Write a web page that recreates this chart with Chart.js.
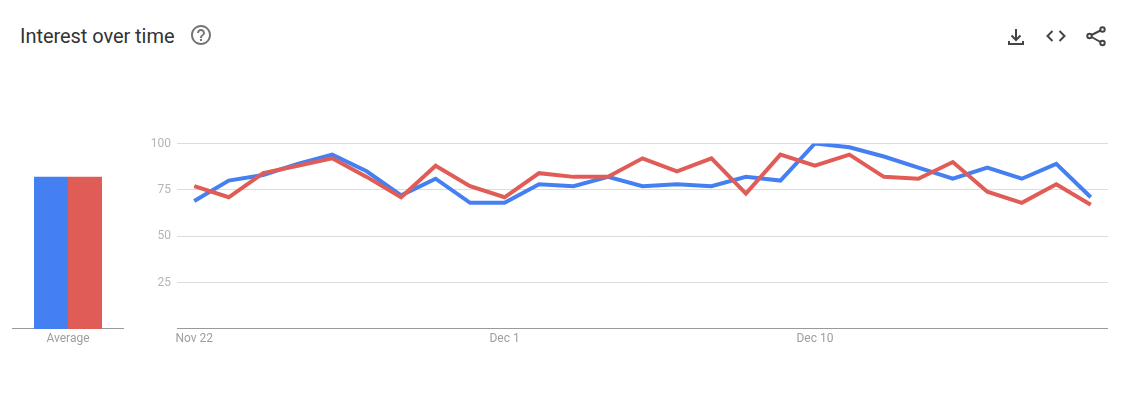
<!DOCTYPE html>
<html>
<head>
<meta charset="utf-8">
<title>Interest over time</title>
<script src="https://cdn.jsdelivr.net/npm/chart.js@4"></script>
<style>
    html, body { margin: 0; padding: 0; background: #fff; }
    body { position: relative; width: 1132px; height: 402px; overflow: hidden; font-family: Roboto, sans-serif; }
    h1 { position: absolute; left: 20px; top: 25px; margin: 0; font-size: 20px; line-height: 22px; font-weight: 400; color: #333; letter-spacing: -0.05px; }
    canvas { position: absolute; top: 120px; }
    #grafico-promedio { left: 12px; }
    #grafico-tiempo { left: 130px; }
    svg { position: absolute; }
</style>
</head>
<body>
<h1>Interest over time</h1>
<svg style="left:189px;top:23px" width="24" height="24" viewBox="0 0 24 24" fill="#757575">
    <path d="M11 18h2v-2h-2v2zm1-16C6.48 2 2 6.48 2 12s4.48 10 10 10 10-4.48 10-10S17.52 2 12 2zm0 18c-4.41 0-8-3.59-8-8s3.59-8 8-8 8 3.59 8 8-3.59 8-8 8zm0-14c-2.21 0-4 1.79-4 4h2c0-1.1.9-2 2-2s2 .9 2 2c0 2-3 1.75-3 5h2c0-2.25 3-2.5 3-5 0-2.21-1.79-4-4-4z"/>
</svg>
<svg style="left:1004px;top:25px" width="24" height="24" viewBox="0 0 24 24" fill="none" stroke="#444" stroke-width="2">
    <path d="M12 4v11M7.5 10.5 12 15l4.5-4.5M5 16v3h14v-3"/>
</svg>
<svg style="left:1044px;top:24px" width="24" height="24" viewBox="0 0 24 24" fill="none" stroke="#444" stroke-width="2">
    <path d="M8.5 7 3.5 12l5 5M15.5 7l5 5-5 5"/>
</svg>
<svg style="left:1084px;top:24px" width="24" height="24" viewBox="0 0 24 24" fill="none" stroke="#444" stroke-width="2">
    <circle cx="18.5" cy="5.5" r="2.2"/><circle cx="5.5" cy="12" r="2.2"/><circle cx="18.5" cy="19" r="2.2"/>
    <path d="M7.5 11 16.5 6.5M7.5 13l9 5"/>
</svg>
<canvas id="grafico-promedio" width="112" height="240"></canvas>
<canvas id="grafico-tiempo" width="978" height="240"></canvas>
<script>
const dias = ['Nov 22', 'Nov 23', 'Nov 24', 'Nov 25', 'Nov 26', 'Nov 27', 'Nov 28', 'Nov 29', 'Nov 30',
    'Dec 1', 'Dec 2', 'Dec 3', 'Dec 4', 'Dec 5', 'Dec 6', 'Dec 7', 'Dec 8', 'Dec 9',
    'Dec 10', 'Dec 11', 'Dec 12', 'Dec 13', 'Dec 14', 'Dec 15', 'Dec 16', 'Dec 17', 'Dec 18']
const valoresAzul = [69, 80, 83, 89, 94, 85, 72, 81, 68, 68, 78, 77, 82, 77, 78, 77, 82, 80, 100, 98, 93, 87, 81, 87, 81, 89, 71]
const valoresRojo = [77, 71, 84, 88, 92, 82, 71, 88, 77, 71, 84, 82, 82, 92, 85, 92, 73, 94, 88, 94, 82, 81, 90, 74, 68, 78, 67]
const etiquetasX = ['Nov 22', 'Dec 1', 'Dec 10']
const etiquetasY = [100, 75, 50, 25]
const promedioCategoria = ['Average']
const promedioAzul = [82]
const promedioRojo = [82]

const AZUL = '#4480f2'
const ROJO = '#e05d57'
const fuenteEjes = { family: 'Roboto', size: 12 }
const alturaEjeX = 31.1

const ejeX = {
    offset: true,
    grid: { display: false, tickLength: 0 },
    border: { color: '#9a9a9a', width: 1 },
    afterFit: (eje) => { eje.height = alturaEjeX },
    ticks: {
        color: '#9e9e9e',
        font: fuenteEjes,
        padding: 3,
        maxRotation: 0,
        autoSkip: false,
    },
}

new Chart(document.querySelector('#grafico-promedio'), {
    type: 'bar',
    data: {
        labels: promedioCategoria,
        datasets: [
            { data: promedioAzul, backgroundColor: AZUL, barPercentage: 1, categoryPercentage: 0.607 },
            { data: promedioRojo, backgroundColor: ROJO, barPercentage: 1, categoryPercentage: 0.607 },
        ],
    },
    options: {
        responsive: false,
        animation: false,
        layout: { padding: { top: 23.5 } },
        plugins: { legend: { display: false }, tooltip: { enabled: false } },
        scales: {
            x: ejeX,
            y: { display: false, min: 0, max: 100 },
        },
    },
})

new Chart(document.querySelector('#grafico-tiempo'), {
    type: 'line',
    data: {
        labels: dias,
        datasets: [
            { data: valoresAzul, borderColor: AZUL, order: 2 },
            { data: valoresRojo, borderColor: ROJO, order: 1 },
        ],
    },
    options: {
        responsive: false,
        animation: false,
        layout: { padding: { top: 23.5 } },
        elements: {
            point: { radius: 0 },
            line: { borderWidth: 4, tension: 0, borderJoinStyle: 'miter', borderCapStyle: 'butt' },
        },
        plugins: { legend: { display: false }, tooltip: { enabled: false } },
        scales: {
            x: {
                ...ejeX,
                ticks: {
                    ...ejeX.ticks,
                    callback: function (valor) {
                        const etiqueta = this.getLabelForValue(valor)
                        return etiquetasX.includes(etiqueta) ? etiqueta : null
                    },
                },
            },
            y: {
                min: 0,
                max: 100,
                afterFit: (eje) => { eje.width = 47 },
                afterBuildTicks: (eje) => {
                    eje.ticks = etiquetasY.map((valor) => ({ value: valor }))
                },
                border: { display: false },
                grid: { color: '#dcdcdc', drawTicks: false },
                ticks: { color: '#b4b4b4', font: { family: 'Roboto', size: 12 }, padding: 6 },
            },
        },
    },
})
</script>
</body>
</html>
